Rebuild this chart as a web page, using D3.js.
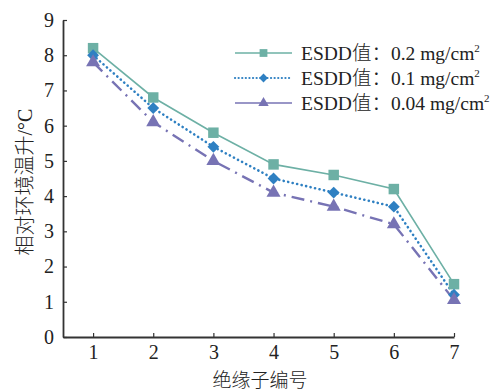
<!DOCTYPE html>
<html>
<head>
<meta charset="utf-8">
<script src="https://cdn.jsdelivr.net/npm/d3@7"></script>
<style>
  body { margin: 0; background: #fff; }
  text { font-family: "Liberation Serif", "Noto Sans CJK SC", serif; fill: #222; }
  .cjk { font-family: "Noto Sans CJK SC", sans-serif; font-weight: 300; }
</style>
</head>
<body>
<svg width="500" height="391"></svg>
<script>
// data
const insulators = [1, 2, 3, 4, 5, 6, 7];
const esdd02 = [8.2, 6.8, 5.8, 4.9, 4.6, 4.2, 1.5];
const esdd01 = [8.0, 6.5, 5.4, 4.5, 4.1, 3.7, 1.2];
const esdd004 = [7.8, 6.1, 5.0, 4.1, 3.7, 3.2, 1.05];
const seriesNames = ['0.2', '0.1', '0.04'];
const yTicks = [0, 1, 2, 3, 4, 5, 6, 7, 8, 9];

const svg = d3.select('svg');

const x = d3.scaleLinear().domain([0.5, 7]).range([63, 454]);
const y = d3.scaleLinear().domain([0, 9]).range([337, 20]);

const series = [
    { name: seriesNames[0], values: esdd02, color: '#6db0a5', symbol: d3.symbolSquare, size: 110, rot: 0, width: 1.6, dash: null, cap: 'butt', legendDash: null },
    { name: seriesNames[1], values: esdd01, color: '#2f80c2', symbol: d3.symbolSquare, size: 70, rot: 45, width: 2.6, dash: '0.1 4.5', cap: 'round', legendDash: '0.1 3.5' },
    { name: seriesNames[2], values: esdd004, color: '#7773b4', symbol: d3.symbolTriangle, size: 85, rot: 0, width: 2.4, dash: '13 6 2 6', cap: 'butt', legendDash: null }
];

const line = d3.line()
    .x((d, i) => x(insulators[i]))
    .y(d => y(d));

// axes
const xAxis = d3.axisBottom(x).tickValues(insulators).tickFormat(d3.format('d'))
    .tickSize(-4).tickPadding(8).tickSizeOuter(0);
const yAxis = d3.axisLeft(y).tickValues(yTicks).tickFormat(d3.format('d'))
    .tickSize(-4).tickPadding(9).tickSizeOuter(0);

const gx = svg.append('g')
    .attr('transform', `translate(0,${y(0)})`)
    .call(xAxis);
const gy = svg.append('g')
    .attr('transform', `translate(${x(0.5)},0)`)
    .call(yAxis);

[gx, gy].forEach(g => {
    g.select('.domain').attr('stroke', '#333').attr('stroke-width', 1.8);
    g.selectAll('.tick line').attr('stroke', '#333').attr('stroke-width', 1.2);
    g.selectAll('.tick text')
        .attr('font-size', 20)
        .attr('font-family', '"Liberation Serif", serif')
        .attr('fill', '#222');
});

// lines and markers
series.forEach(s => {
    svg.append('path')
        .datum(s.values)
        .attr('d', line)
        .attr('fill', 'none')
        .attr('stroke', s.color)
        .attr('stroke-width', s.width)
        .attr('stroke-dasharray', s.dash)
        .attr('stroke-linecap', s.cap);
});
series.forEach(s => {
    svg.selectAll(null)
        .data(s.values)
        .enter()
        .append('path')
        .attr('d', d3.symbol(s.symbol, s.size))
        .attr('transform', (d, i) => `translate(${x(insulators[i])},${y(d)}) rotate(${s.rot})`)
        .attr('fill', s.color);
});

// legend
const legend = svg.append('g').attr('transform', 'translate(235,53)');
const rowH = 25;
series.forEach((s, i) => {
    const g = legend.append('g').attr('transform', `translate(0,${i * rowH})`);
    g.append('line')
        .attr('x1', 0).attr('x2', 57)
        .attr('stroke', s.color)
        .attr('stroke-width', s.legendDash ? 2.2 : 1.6)
        .attr('stroke-dasharray', s.legendDash)
        .attr('stroke-linecap', s.cap);
    g.append('path')
        .attr('d', d3.symbol(s.symbol, s.size * 0.55))
        .attr('transform', `translate(28.5,0) rotate(${s.rot})`)
        .attr('fill', s.color);
    const t = g.append('text')
        .attr('x', 66).attr('y', 7)
        .attr('font-size', 19.5);
    t.append('tspan').text('ESDD');
    t.append('tspan').attr('class', 'cjk').text('值：');
    t.append('tspan').text(s.name + ' mg/cm');
    t.append('tspan').attr('font-size', 11).attr('dy', -8).text('2');
});

// axis titles
svg.append('text')
    .attr('class', 'cjk')
    .attr('x', 260).attr('y', 387)
    .attr('text-anchor', 'middle')
    .attr('font-size', 19)
    .text('绝缘子编号');

svg.append('text')
    .attr('transform', 'translate(32,182) rotate(-90)')
    .attr('text-anchor', 'middle')
    .attr('font-size', 20)
    .call(t => {
        t.append('tspan').attr('class', 'cjk').text('相对环境温升');
        t.append('tspan').text('/°C');
    });
</script>
</body>
</html>
